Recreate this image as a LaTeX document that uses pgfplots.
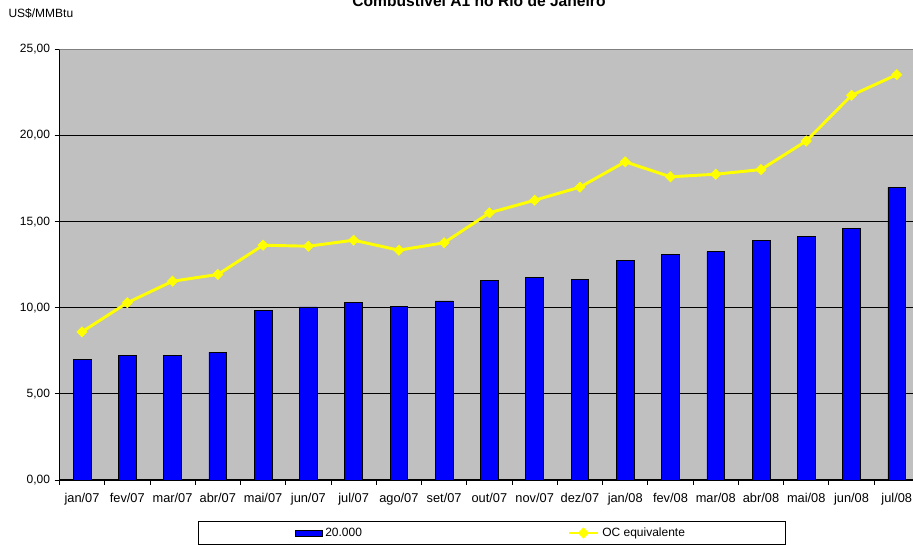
\documentclass[border=0pt]{standalone}
\usepackage{pgfplots}
\pgfplotsset{compat=1.18}
\usepackage{fontspec}
\setmainfont{Liberation Sans}
\definecolor{plotbg}{RGB}{192,192,192}
\definecolor{barblue}{RGB}{0,0,255}
\definecolor{lineyellow}{RGB}{255,255,0}
\definecolor{topgray}{RGB}{128,128,128}
\pgfplotsset{
  barlegend/.style={legend image code/.code={\draw[##1] (0pt,-2.2pt) rectangle (20pt,2.2pt);}},
  linelegend/.style={legend image code/.code={\draw[mark repeat=2, mark phase=2, ##1] plot coordinates {(0pt,0pt) (11pt,0pt) (22pt,0pt)};}},
}

\begin{document}
\begin{tikzpicture}
\useasboundingbox (0pt,0pt) rectangle (684.75pt,408.75pt);
\node[anchor=base, font=\fontsize{11.7}{14}\selectfont\bfseries] at (359.25pt,403.5pt) {Combustível A1 no Rio de Janeiro};
\node[anchor=base west, inner sep=0pt, font=\fontsize{9}{11}\selectfont] at (6.2pt,395.25pt) {US\$/MMBtu};
\begin{axis}[
  at={(44.55pt,48.75pt)}, anchor=south west,
  scale only axis, width=645pt, height=323pt,
  xmin=-0.5, xmax=18.5, ymin=0, ymax=25,
  axis background/.style={fill=plotbg},
  axis x line*=bottom, axis y line*=left,
  axis line style={-, black, line width=0.75pt},
  tick align=outside,
  xtick={0,...,18},
  xticklabels={jan/07,fev/07,mar/07,abr/07,mai/07,jun/07,jul/07,ago/07,set/07,out/07,nov/07,dez/07,jan/08,fev/08,mar/08,abr/08,mai/08,jun/08,jul/08},
  major x tick style={draw=none},
  minor xtick={-0.5,0.5,...,18.5},
  minor tick length=3.5pt,
  major tick length=3.5pt,
  tick style={black, line width=0.6pt},
  ytick={0,5,10,15,20,25},
  ymajorgrids=true,
  grid style={black, line width=0.6pt},
  ticklabel style={font=\fontsize{9}{11}\selectfont},
  xticklabel style={font=\fontsize{9.6}{11}\selectfont, yshift=-3pt},
  /pgf/number format/assume math mode=true,
  yticklabel style={/pgf/number format/.cd, fixed, fixed zerofill, precision=2, use comma, 1000 sep={}},
  legend style={draw=black, fill=white, line width=0.6pt, font=\fontsize{9}{11}\selectfont,
    at={(0.5024,-0.1231)}, anchor=center, legend columns=2,
    inner xsep=73pt, inner ysep=2.5pt,
    /tikz/every even column/.append style={column sep=152pt}},
]
\addplot[ybar, bar width=13.3pt, fill=barblue, draw=black, line width=0.5pt, barlegend]
  coordinates {(0,7.02) (1,7.21) (2,7.21) (3,7.42) (4,9.82) (5,10.05) (6,10.29) (7,10.07) (8,10.40) (9,11.58) (10,11.76) (11,11.64) (12,12.74) (13,13.09) (14,13.26) (15,13.90) (16,14.13) (17,14.60) (18,17.00)};
\addlegendentry{20.000}
\addplot[lineyellow, line width=2.2pt, mark=square*, mark size=2.7pt,
  mark options={rotate=45, fill=lineyellow, draw=lineyellow, line width=0.5pt}, linelegend]
  coordinates {(0,8.60) (1,10.29) (2,11.54) (3,11.93) (4,13.63) (5,13.57) (6,13.92) (7,13.34) (8,13.77) (9,15.51) (10,16.24) (11,17.00) (12,18.47) (13,17.60) (14,17.75) (15,18.02) (16,19.68) (17,22.33) (18,23.53)};
\addlegendentry{OC equivalente}
\draw[topgray, line width=0.75pt] (axis cs:-0.5,25) -- (axis cs:18.5,25);
\end{axis}
\end{tikzpicture}
\end{document}
